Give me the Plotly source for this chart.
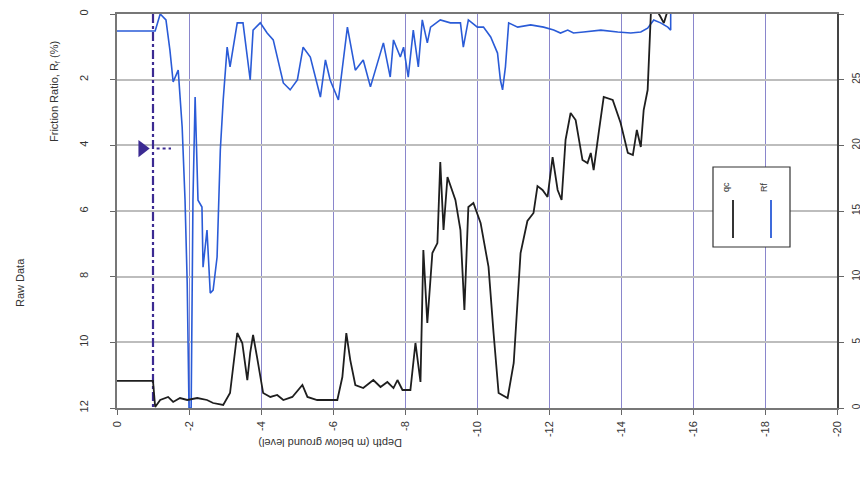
import plotly.graph_objects as go

# ---- data (depth in m, negative below ground) ----
qc_depth = [0, -1.00, -1.06, -1.20, -1.42, -1.56, -1.75, -1.95, -2.23, -2.50, -2.67, -2.95,
            -3.14, -3.23, -3.34, -3.48, -3.62, -3.70, -3.78, -3.89, -4.06, -4.26, -4.45, -4.62,
            -4.87, -5.15, -5.29, -5.56, -6.12, -6.26, -6.37, -6.48, -6.62, -6.84, -7.12, -7.32,
            -7.51, -7.68, -7.79, -7.93, -8.15, -8.29, -8.43, -8.51, -8.62, -8.76, -8.90, -8.98,
            -9.07, -9.18, -9.40, -9.54, -9.65, -9.76, -9.90, -10.10, -10.32, -10.46, -10.60,
            -10.85, -11.02, -11.21, -11.40, -11.57, -11.68, -11.82, -11.96, -12.10, -12.24,
            -12.35, -12.46, -12.60, -12.74, -12.93, -13.07, -13.16, -13.24, -13.38, -13.52,
            -13.77, -13.99, -14.19, -14.33, -14.44, -14.55, -14.63, -14.74, -14.83, -14.91,
            -15.10, -15.19, -15.30]
qc_values = [2.06, 2.06, 0.08, 0.61, 0.84, 0.46, 0.76, 0.61, 0.76, 0.61, 0.38, 0.23,
             1.14, 3.12, 5.71, 4.95, 2.13, 4.19, 5.56, 3.88, 1.14, 0.84, 0.99, 0.61,
             0.84, 1.75, 0.84, 0.61, 0.61, 2.36, 5.71, 3.65, 1.75, 1.52, 2.13, 1.60,
             1.98, 1.52, 2.13, 1.37, 1.37, 4.95, 1.98, 12.03, 6.47, 11.80, 12.56, 18.73,
             13.55, 17.59, 15.84, 13.55, 7.46, 15.30, 15.61, 14.09, 10.74, 5.71, 1.14,
             0.76, 3.43, 11.80, 14.24, 14.85, 16.90, 16.60, 16.07, 19.11, 16.60,
             15.84, 20.41, 22.46, 21.93, 18.88, 18.65, 19.42, 18.12, 20.94, 23.68,
             23.45, 21.70, 19.42, 19.26, 21.17, 19.87, 22.69, 24.21, 30.08, 30.70,
             29.77, 29.31, 30.30]

rf_depth = [0, -1.06, -1.20, -1.36, -1.47, -1.56, -1.70, -1.81, -1.89, -1.95, -2.00, -2.06,
            -2.11, -2.17, -2.25, -2.36, -2.39, -2.50, -2.59, -2.67, -2.78, -2.87, -2.95, -3.06,
            -3.14, -3.34, -3.50, -3.70, -3.78, -3.98, -4.17, -4.34, -4.62, -4.81, -5.01, -5.17,
            -5.37, -5.65, -5.79, -5.92, -6.15, -6.40, -6.62, -6.84, -7.04, -7.23, -7.40, -7.59,
            -7.68, -7.87, -7.96, -8.09, -8.23, -8.37, -8.48, -8.62, -8.71, -8.98, -9.26, -9.54,
            -9.62, -9.76, -10.01, -10.18, -10.38, -10.57, -10.65, -10.71, -10.79, -10.88,
            -11.13, -11.49, -11.85, -12.13, -12.32, -12.52, -12.68, -12.96, -13.44, -13.91,
            -14.27, -14.55, -14.74, -14.91, -15.10, -15.30, -15.38, -15.38]
rf_values = [0.52, 0.52, 0.0, 0.18, 1.10, 2.07, 1.71, 3.44, 5.67, 8.19, 12.0, 12.0,
             5.67, 2.53, 5.67, 5.88, 7.71, 6.58, 8.50, 8.41, 7.40, 4.14, 2.62, 1.01,
             1.61, 0.27, 0.27, 2.01, 0.49, 0.27, 0.58, 0.79, 2.10, 2.31, 2.01, 1.01,
             1.31, 2.53, 1.40, 2.01, 2.62, 0.40, 1.71, 1.40, 2.22, 1.49, 0.88, 1.92,
             0.79, 1.31, 1.01, 1.92, 0.49, 1.61, 0.18, 0.88, 0.40, 0.18, 0.27, 0.27,
             1.01, 0.18, 0.40, 0.40, 0.70, 1.19, 2.01, 2.31, 1.61, 0.27,
             0.40, 0.33, 0.40, 0.49, 0.58, 0.49, 0.58, 0.55, 0.49, 0.55,
             0.58, 0.55, 0.43, 0.18, 0.27, 0.40, 0.49, 0.0]

water_depth = -1.0
water_marker_rf = 4.1

depth_ticks = [0, -2, -4, -6, -8, -10, -12, -14, -16, -18, -20]
rf_ticks = [0, 2, 4, 6, 8, 10, 12]
qc_ticks = [0, 5, 10, 15, 20, 25, 30]

FONT = "Liberation Sans, Arial, sans-serif"
TXT = "#333333"

# page geometry: the page body adds an 8px offset, so the figure is sized to fit
PAGE_OFF = 8
W, H = 868 - PAGE_OFF, 486 - PAGE_OFF
# plot-area edges in page pixels
L, R, T, B = 117, 837, 14, 408


def px(xp):
    return (xp - L) / (R - L)


def py(yp):
    return 1 - (yp - T) / (B - T)


fig = go.Figure()

# water level dash-dot line
fig.add_trace(go.Scatter(x=[water_depth, water_depth], y=[0, 12], mode="lines",
                         line=dict(color="#3b2a92", width=2.2, dash="dashdot"),
                         yaxis="y", showlegend=False, hoverinfo="skip"))
fig.add_trace(go.Scatter(x=[water_depth - 0.1, water_depth - 0.5], y=[water_marker_rf, water_marker_rf],
                         mode="lines", line=dict(color="#3b2a92", width=2, dash="dot"),
                         yaxis="y", showlegend=False, hoverinfo="skip"))
fig.add_trace(go.Scatter(x=[water_depth + 0.3], y=[water_marker_rf], mode="markers",
                         marker=dict(symbol="triangle-right", size=15, color="#3b2a92"),
                         yaxis="y", showlegend=False, hoverinfo="skip"))

# qc (black, right axis)
fig.add_trace(go.Scatter(x=qc_depth, y=qc_values, mode="lines", name="qc",
                         line=dict(color="#1e1e1e", width=1.8), yaxis="y2", showlegend=False))
# Rf (blue, left axis)
fig.add_trace(go.Scatter(x=rf_depth, y=rf_values, mode="lines", name="Rf",
                         line=dict(color="#2a5bd7", width=1.6), yaxis="y", showlegend=False))

fig.update_layout(
    width=W, height=H,
    margin=dict(l=L - PAGE_OFF, r=868 - R, t=T - PAGE_OFF, b=486 - B, autoexpand=False),
    paper_bgcolor="white", plot_bgcolor="white",
    font=dict(family=FONT, size=11, color=TXT),
    xaxis=dict(range=[0, -20], tickvals=depth_ticks, ticktext=[str(v) for v in depth_ticks],
               tickangle=-90, showgrid=True, gridcolor="#8a86cc", gridwidth=1,
               showline=True, linecolor="#777777", linewidth=1.5, mirror=True,
               ticks="outside", ticklen=5, tickcolor="#666666", zeroline=False,
               automargin=False, ticklabelstandoff=2),
    yaxis=dict(range=[12, 0], tickvals=rf_ticks, tickangle=-90, showgrid=True,
               gridcolor="#bdbdbd", gridwidth=1.5, showline=True, linecolor="#777777",
               linewidth=1.5, ticks="outside", ticklen=5, tickcolor="#666666", zeroline=False,
               automargin=False, ticklabelstandoff=18),
    yaxis2=dict(range=[0, 30], tickvals=qc_ticks, tickangle=-90, overlaying="y", side="right",
                showgrid=False, showline=True, linecolor="#444444", linewidth=1.5,
                ticks="outside", ticklen=5, tickcolor="#666666", zeroline=False,
                automargin=False, ticklabelstandoff=4, tickfont=dict(size=10)),
)

# axis titles
fig.add_annotation(text="Friction Ratio, R<sub>f</sub> (%)", xref="paper", yref="paper",
                   x=px(55), y=py(92), xanchor="center", yanchor="middle", textangle=-90,
                   showarrow=False, font=dict(size=11, color=TXT, family=FONT))
fig.add_annotation(text="Raw Data", xref="paper", yref="paper", x=px(20), y=py(283),
                   xanchor="center", yanchor="middle", showarrow=False, textangle=-90,
                   font=dict(size=11, color=TXT, family=FONT))
fig.add_annotation(text="Depth (m below ground level)", xref="paper", yref="paper",
                   x=px(330), y=py(443), xanchor="center", yanchor="middle",
                   showarrow=False, textangle=180, font=dict(size=11, color=TXT, family=FONT))

# legend box (drawn manually, vertical sample lines)
fig.add_shape(type="rect", xref="paper", yref="paper", x0=px(713), x1=px(790), y0=py(247), y1=py(167),
              line=dict(color="#333333", width=1.2), fillcolor="white", layer="above")
fig.add_shape(type="line", xref="paper", yref="paper", x0=px(733), x1=px(733), y0=py(238), y1=py(200),
              line=dict(color="#1e1e1e", width=1.8), layer="above")
fig.add_shape(type="line", xref="paper", yref="paper", x0=px(771), x1=px(771), y0=py(238), y1=py(200),
              line=dict(color="#2a5bd7", width=1.8), layer="above")
fig.add_annotation(text="qc", xref="paper", yref="paper", x=px(733), y=py(187), showarrow=False,
                   textangle=-90, font=dict(size=9, color=TXT, family=FONT))
fig.add_annotation(text="Rf", xref="paper", yref="paper", x=px(771), y=py(187), showarrow=False,
                   textangle=-90, font=dict(size=9, color=TXT, family=FONT))

fig.write_html("out.html")
